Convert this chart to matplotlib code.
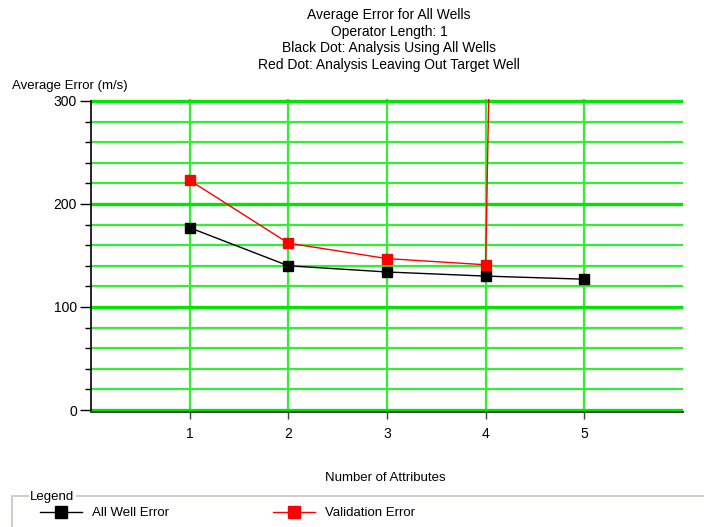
import matplotlib
matplotlib.use("Agg")
from matplotlib import pyplot as plt
from matplotlib.lines import Line2D
import matplotlib.patches as patches
from matplotlib.ticker import MultipleLocator

plt.rcParams['font.family'] = ['Liberation Sans', 'DejaVu Sans']

# values
attributes = [1, 2, 3, 4, 5]
all_well_error = [177, 140, 134, 130, 127]
validation_error = [223, 162, 147, 141, 5400]   # last one is far off the top

title_lines = ["Average Error for All Wells",
               "Operator Length: 1",
               "Black Dot: Analysis Using All Wells",
               "Red Dot: Analysis Leaving Out Target Well"]

fig = plt.figure(figsize=(7.04, 5.27), dpi=100)
# 0 -> pixel 410, 300 -> pixel 101 ; axes spans -2 .. 301.5
ppu = (410 - 101) / 300
y_lo, y_hi = -2, 301.5
top_px = 410 - y_hi * ppu
bot_px = 410 - y_lo * ppu
ax = fig.add_axes([91/704, 1-bot_px/527, (683-91)/704, (bot_px-top_px)/527])

ax.set_xlim(0, 6)
ax.set_ylim(y_lo, y_hi)

ax.yaxis.set_major_locator(MultipleLocator(100))
ax.yaxis.set_minor_locator(MultipleLocator(20))
ax.set_xticks(attributes)

ax.grid(which='major', axis='y', color='#00e600', lw=2.4)
ax.grid(which='minor', axis='y', color='#33ee33', lw=1.6)
ax.grid(which='major', axis='x', color='#33ee33', lw=1.6)
ax.set_axisbelow(True)

for s in ['top', 'right']:
    ax.spines[s].set_visible(False)
ax.spines['left'].set_color('black')
ax.spines['left'].set_linewidth(1.2)
ax.spines['left'].set_bounds(y_lo, 300)
ax.spines['bottom'].set_color('#404040')
ax.spines['bottom'].set_linewidth(1.5)

ax.tick_params(axis='y', which='major', length=8, width=1, labelsize=10, pad=2)
ax.tick_params(axis='y', which='minor', length=4, width=1)
ax.tick_params(axis='x', length=5, width=1, color='#404040', labelsize=10, pad=6)

ax.plot(attributes, all_well_error, color='black', lw=1, marker='s', ms=7,
        mfc='black', mec='black')
ax.plot(attributes, validation_error, color='red', lw=1, marker='s', ms=7,
        mfc='red', mec='red')

# titles
ys = [15, 32, 48, 65]
for t, y in zip(title_lines, ys):
    fig.text(389/704, 1-y/527, t, ha='center', va='center', fontsize=10)

fig.text(12/704, 1-86/527, "Average Error (m/s)", ha='left', va='center', fontsize=9.5)
fig.text(385/704, 1-478/527, "Number of Attributes", ha='center', va='center', fontsize=9.5)

# legend group box
box = patches.Rectangle((12/704, -0.05), 1.0, 0.05 + (527-496)/527, transform=fig.transFigure,
                        fill=False, edgecolor='#c8c4bc', lw=1.2)
fig.add_artist(box)
fig.text(30/704, 1-497/527, "Legend", ha='left', va='center', fontsize=9.5,
         bbox=dict(facecolor='white', edgecolor='none', pad=1))

handles = [Line2D([], [], color='black', lw=1, marker='s', ms=9),
           Line2D([], [], color='red', lw=1, marker='s', ms=9)]
fig.legend(handles, ["All Well Error", "Validation Error"], ncol=2, frameon=False,
           loc='center left', bbox_to_anchor=(28/704, 1-513/527), fontsize=9.5,
           handlelength=3.2, handletextpad=0.75, columnspacing=7.9)

fig.savefig("out.png", dpi=100)
